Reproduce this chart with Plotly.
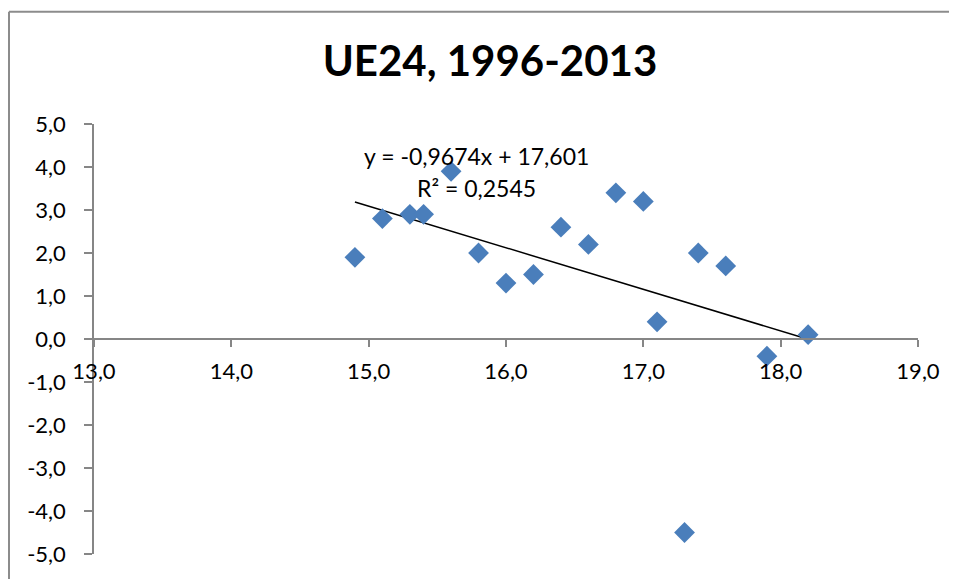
import plotly.graph_objects as go

# ---- data ----
x_vals = [14.9, 15.1, 15.3, 15.4, 15.6, 15.8, 16.0, 16.2, 16.4, 16.6,
          16.8, 17.0, 17.1, 17.3, 17.4, 17.6, 17.9, 18.2]
y_vals = [1.9, 2.8, 2.9, 2.9, 3.9, 2.0, 1.3, 1.5, 2.6, 2.2,
          3.4, 3.2, 0.4, -4.5, 2.0, 1.7, -0.4, 0.1]
trend_slope = -0.9674
trend_intercept = 17.601
title_text = "UE24, 1996-2013"
eq_text = "y = -0,9674x + 17,601"
r2_text = "R² = 0,2545"
x_range = [13, 19]
y_range = [-5, 5]
x_ticks = [13, 14, 15, 16, 17, 18, 19]
x_tick_labels = ["13,0", "14,0", "15,0", "16,0", "17,0", "18,0", "19,0"]
y_ticks = [5, 4, 3, 2, 1, 0, -1, -2, -3, -4, -5]
y_tick_labels = ["5,0", "4,0", "3,0", "2,0", "1,0", "0,0",
                 "-1,0", "-2,0", "-3,0", "-4,0", "-5,0"]

FONT = "Lato"
GREY = "#868686"
OFF = 8  # page body margin
W, H = 957 - OFF, 579 - OFF
L, T = 94 - OFF, 124 - OFF
R = W - (918 - OFF)
B = H - (557 - OFF)
pw, ph = W - L - R, H - T - B

fig = go.Figure()

tx = [min(x_vals), max(x_vals)]
ty = [trend_slope * v + trend_intercept for v in tx]
fig.add_trace(go.Scatter(x=tx, y=ty, mode="lines",
                         line=dict(color="black", width=1.5),
                         showlegend=False, hoverinfo="skip"))
fig.add_trace(go.Scatter(x=x_vals, y=y_vals, mode="markers",
                         marker=dict(symbol="diamond", size=16, color="#4A7EBB",
                                     line=dict(width=0)),
                         showlegend=False))

def px_to_paper_x(p):
    return (p - OFF - L) / pw

def px_to_paper_y(p):
    return (H + OFF - B - p) / ph

# chart-area border (top and left edges visible)
fig.add_shape(type="line", xref="paper", yref="paper",
              x0=px_to_paper_x(9), x1=px_to_paper_x(960),
              y0=px_to_paper_y(11), y1=px_to_paper_y(11),
              line=dict(color="#8c8c8c", width=2), layer="below")
fig.add_shape(type="line", xref="paper", yref="paper",
              x0=px_to_paper_x(9), x1=px_to_paper_x(9),
              y0=px_to_paper_y(11), y1=px_to_paper_y(590),
              line=dict(color="#8c8c8c", width=2), layer="below")

fig.add_annotation(x=px_to_paper_x(476), y=px_to_paper_y(156), xref="paper", yref="paper",
                   text=eq_text, showarrow=False,
                   xanchor="center", yanchor="middle",
                   font=dict(family=FONT, size=23, color="black"))
fig.add_annotation(x=px_to_paper_x(476), y=px_to_paper_y(188), xref="paper", yref="paper",
                   text=r2_text, showarrow=False,
                   xanchor="center", yanchor="middle",
                   font=dict(family=FONT, size=23, color="black"))

x_pos = (0 - y_range[0]) / (y_range[1] - y_range[0])

fig.update_layout(
    width=W, height=H,
    margin=dict(l=L, r=R, t=T, b=B, pad=0),
    paper_bgcolor="white", plot_bgcolor="white",
    title=dict(text="<b>" + title_text + "</b>", x=(490 - OFF) / W, xanchor="center",
               xref="container", y=1 - (61 - OFF) / H, yanchor="middle", yref="container",
               font=dict(family=FONT, size=42, color="black")),
    font=dict(family=FONT, size=22, color="black"),
    xaxis=dict(range=x_range, tickvals=x_ticks, ticktext=x_tick_labels,
               showgrid=False, zeroline=False, showline=True,
               linecolor=GREY, linewidth=1.5, ticks="outside", ticklen=7,
               tickcolor=GREY, tickwidth=1.5, anchor="free", position=x_pos,
               ticklabelstandoff=6),
    yaxis=dict(range=y_range, tickvals=y_ticks, ticktext=y_tick_labels,
               showgrid=False, zeroline=False, showline=True,
               linecolor=GREY, linewidth=1.5, ticks="outside", ticklen=8,
               tickcolor=GREY, tickwidth=1.5, ticklabelstandoff=14),
)

fig.write_html("out.html")
